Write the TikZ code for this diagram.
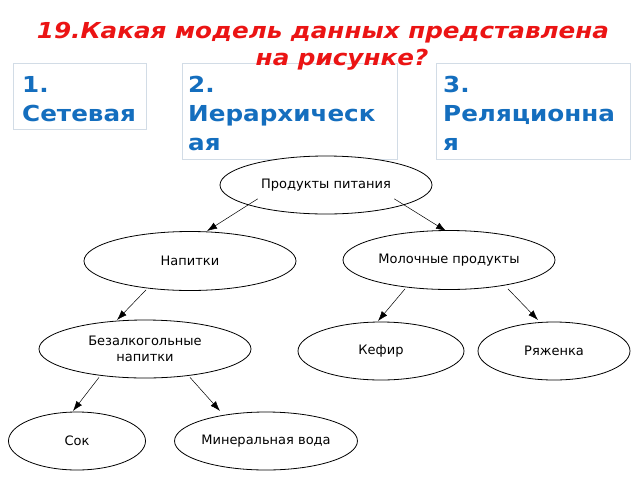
\documentclass[tikz,border=0pt]{standalone}
\usepackage{fontspec}
\setmainfont{DejaVu Sans}
\usetikzlibrary{shapes.geometric,arrows.meta}
\definecolor{titlered}{RGB}{235,20,20}
\definecolor{ansblue}{RGB}{20,110,190}
\definecolor{boxline}{RGB}{210,220,230}
\tikzset{
  anstext/.style={anchor=base west, align=left, text=ansblue, font=\fontsize{22}{29}\selectfont\bfseries\addfontfeature{FakeStretch=1.12}, inner sep=0pt},
  ell/.style={draw=black, line width=0.8pt, fill=white, ellipse, inner sep=0pt, font=\fontsize{13}{15.5}\selectfont, align=center},
  arr/.style={-{Latex[length=10pt,width=7pt]}, line width=0.5pt},
  ttl/.style={anchor=base, text=titlered, font=\fontsize{22}{24}\selectfont\bfseries\itshape\addfontfeature{FakeStretch=1.12}, inner sep=0pt}
}
\begin{document}
\begin{tikzpicture}[x=1pt,y=-1pt]
\useasboundingbox[fill=white] (0,0) rectangle (640,480);
% answer boxes
\draw[boxline, line width=0.8pt] (13,63) rectangle (146,129);
\draw[boxline, line width=0.8pt] (182,63) rectangle (397,159);
\draw[boxline, line width=0.8pt] (436,63) rectangle (630,159);
\node[anstext] (a1) at (22,92) {1.};
\node[anstext] (a1b) at (22,121) {Сетевая};
\node[anstext] (a2) at (188,92) {2.};
\node[anstext] (a2b) at (188,121) {Иерархическ};
\node[anstext] (a2c) at (188,150) {ая};
\node[anstext] (a3) at (443,92) {3.};
\node[anstext] (a3b) at (443,121) {Реляционна};
\node[anstext] (a3c) at (443,150) {я};
% ellipses
\node[ell, minimum width=212pt, minimum height=58pt] (pp) at (326,185) {Продукты питания};
\node[ell, minimum width=212pt, minimum height=59pt] (nap) at (190,261) {Напитки};
\node[ell, minimum width=212pt, minimum height=59pt] (mol) at (449,260) {Молочные продукты};
\node[ell, minimum width=212pt, minimum height=58pt] (bez) at (145,349) {Безалкогольные\\напитки};
\node[ell, minimum width=166pt, minimum height=58pt] (kef) at (381,351) {Кефир};
\node[ell, minimum width=152pt, minimum height=58pt] (rya) at (554,351) {Ряженка};
\node[ell, minimum width=137pt, minimum height=58pt] (sok) at (77,441) {Сок};
\node[ell, minimum width=182pt, minimum height=58pt] (min) at (266,441) {Минеральная вода};
% connectors
\draw[arr] (pp.south west) ++(7,-7) coordinate (c1) -- (207,231) coordinate (d1);
\draw[arr] (pp.south east) ++(-7,-7) coordinate (c2) -- (446,231) coordinate (d2);
\draw[arr] (nap.south) ++(-44,-1) coordinate (c3) -- (117,320) coordinate (d3);
\draw[arr] (mol.south) ++(-44,-1) coordinate (c4) -- (378,321) coordinate (d4);
\draw[arr] (mol.south) ++(59,-1) coordinate (c5) -- (538,320) coordinate (d5);
\draw[arr] (bez.south) ++(-46,-1) coordinate (c6) -- (73,411) coordinate (d6);
\draw[arr] (bez.south) ++(45,-1) coordinate (c7) -- (220,411) coordinate (d7);
% title
\node[ttl] (t1) at (323,38) {19.Какая модель данных представлена};
\node[ttl] (t2) at (342,65) {на рисунке?};
\end{tikzpicture}
\end{document}
